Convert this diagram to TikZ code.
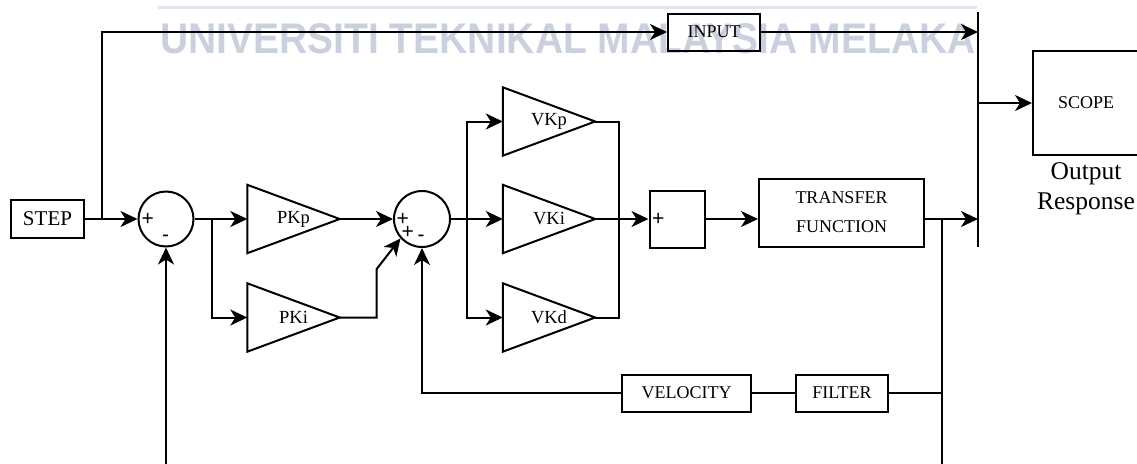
\documentclass[tikz,border=0pt]{standalone}
\usepackage{fontspec}
\setmainfont{Liberation Serif}
\newfontfamily\signfont{Liberation Sans}
\usepackage{tikz}
\usetikzlibrary{arrows.meta, positioning}
\usepackage{xcolor}
\definecolor{watermark}{RGB}{203,208,222}
\definecolor{wmrule}{RGB}{226,229,236}

\begin{document}
\begin{tikzpicture}[
    x=1pt, y=-1pt,
    wire/.style={line width=2pt},
    arrowWire/.style={
        wire,
        -{Stealth[length=17pt, width=16pt, inset=5pt]}
    },
    block/.style={
        rectangle,
        draw,
        line width=2pt,
        inner sep=0pt,
        align=center,
        font=\fontsize{18}{29}\selectfont
    },
    gain/.style={
        rectangle,
        inner sep=0pt,
        minimum width=92pt,
        minimum height=68pt,
        font=\fontsize{18.5}{20}\selectfont
    },
    sumCircle/.style={
        circle,
        draw,
        line width=2pt,
        minimum size=55pt,
        inner sep=0pt
    },
    sign/.style={
        inner sep=0pt,
        font=\signfont\fontsize{21}{21}\selectfont
    },
    markText/.style={
        inner sep=0pt,
        text=watermark,
        font=\signfont\bfseries\fontsize{39}{40}\selectfont
    }
]
\useasboundingbox (0,0) rectangle (1137,463);

% Watermark
\draw[wmrule, line width=3pt] (158,7.5) -- (977,7.5);
\node[markText, anchor=base west] (uni) at (160,53) {\scalebox{1}[1.1]{UNIVERSITI TEKNIKAL MALAYSIA MELAKA}};

% Position loop
\node[block, minimum width=73pt, minimum height=38pt, font=\fontsize{21}{21}\selectfont] (step) at (47.5,219) {STEP};
\node[sumCircle] (s1) at (166,219) {};
\node[gain] (pkp) at (293.5,219) {PKp};
\node[gain] (pki) at (293.5,317.5) {PKi};

% Velocity loop
\node[sumCircle, minimum size=56pt] (s2) at (422,219) {};
\node[gain] (vkp) at (549,121.5) {VKp};
\node[gain] (vki) at (549,219) {VKi};
\node[gain] (vkd) at (549,317.5) {VKd};
\node[block, minimum width=55pt, minimum height=57pt] (add) at (677,219) {};
\node[block, minimum width=165pt, minimum height=68pt] (tf) at (841.5,212.5) {TRANSFER\\FUNCTION};
\node[block, minimum width=129pt, minimum height=37pt] (velocity) at (686.5,393) {VELOCITY};
\node[block, minimum width=92pt, minimum height=37pt] (filter) at (842,393) {FILTER};

% Output side
\node[block, minimum width=92pt, minimum height=37pt] (input) at (714,32) {INPUT};
\node[block, minimum width=106pt, minimum height=104pt] (scope) at (1086,103) {SCOPE};
\node[font=\fontsize{25.5}{30}\selectfont, align=center] (resp) at (1086,189) {Output\\Response};

% Gain triangles
\foreach \g in {pkp, pki, vkp, vki, vkd}
    \draw[wire, line join=miter] (\g.north west) -- (\g.east) -- (\g.south west) -- cycle;

% Signs
\node[sign] (s1p) at (147.7,219) {+};
\node[sign] (s1m) at (165.7,238) {-};
\node[sign] (s2p) at (402.7,219) {+};
\node[sign] (s2q) at (407.7,232.5) {+};
\node[sign] (s2m) at (421,238) {-};
\node[sign] (addp) at (658.3,219) {+};

% Branch points
\coordinate (barTop) at (978,12);
\coordinate (barBot) at (978,247);
\coordinate (tapStep) at (102,219);
\coordinate (tapErr) at (212,219);
\coordinate (tapVel) at (467,219);
\coordinate (tapOut) at (942,219);
\coordinate (fbPos) at (166,466);
\coordinate (fbOut) at (942,466);

% Connectors
\draw[wire] (barTop) -- (barBot);
\draw[wire] (step.east) -- (tapStep);
\draw[arrowWire] (tapStep) -- (s1.west);
\draw[arrowWire] (tapStep) |- (input.west);
\draw[arrowWire] (input.east) -- (input.east -| barTop);
\draw[arrowWire] (fbPos) -- (s1.south);
\draw[wire] (s1.east) -- (tapErr);
\draw[arrowWire] (tapErr) -- (pkp.west);
\draw[arrowWire] (tapErr) |- (pki.west);
\draw[arrowWire] (pkp.east) -- (s2.west);
\draw[arrowWire] (pki.east) -- ++(37,0) -- ++(0,-48.5) -- (s2.222);
\draw[wire] (s2.east) -- (tapVel);
\draw[arrowWire] (tapVel) -- (vki.west);
\draw[arrowWire] (tapVel) |- (vkp.west);
\draw[arrowWire] (tapVel) |- (vkd.west);
\draw[wire] (vkp.east) -- ++(24,0) |- (vkd.east);
\draw[arrowWire] (vki.east) -- (add.west);
\draw[arrowWire] (add.east) -- (add.east -| tf.west);
\draw[arrowWire] (add.east -| tf.east) -- (add.east -| barTop);
\draw[wire] (tapOut) -- (fbOut);
\draw[wire] (tapOut |- filter.east) -- (filter.east);
\draw[wire] (filter.west) -- (velocity.east);
\draw[arrowWire] (velocity.west) -| (s2.south);
\draw[arrowWire] (scope.west -| barTop) -- (scope.west);

\end{tikzpicture}
\end{document}
